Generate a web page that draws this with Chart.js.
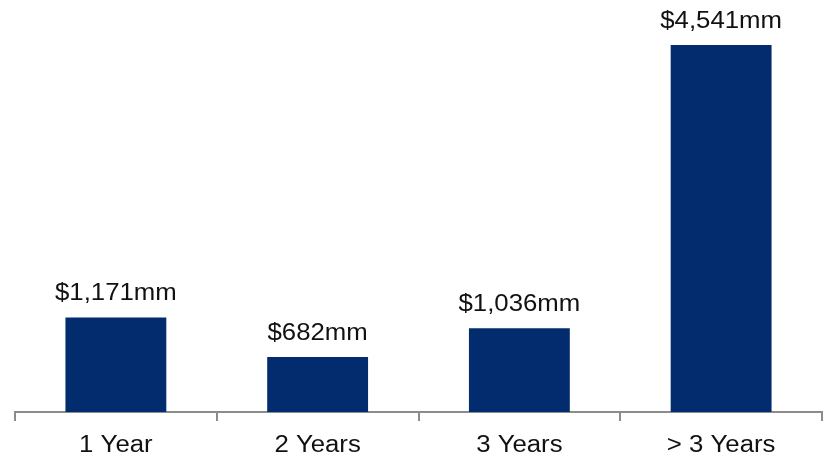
<!DOCTYPE html>
<html>
<head>
<meta charset="utf-8">
<script src="https://cdn.jsdelivr.net/npm/chart.js@4/dist/chart.umd.min.js"></script>
<style>
  html, body { margin: 0; padding: 0; background: #ffffff; }
  #wrap { width: 824px; height: 459px; position: relative; }
</style>
</head>
<body>
<div id="wrap"><canvas id="c"></canvas></div>
<script>
// Maturities by bucket, in $ millions
const categories = ['1 Year', '2 Years', '3 Years', '> 3 Years'];
const maturities = [1171, 682, 1036, 4541];
const valueLabels = ['$1,171mm', '$682mm', '$1,036mm', '$4,541mm'];

const barColor = '#022c6e';
const axisGray = '#8c8c8c';
const textColor = '#111111';
const textFont = '23px "Liberation Sans", Arial, sans-serif';
const textStretch = 1.12; // slightly widened lettering

function drawWideText(ctx, text, x, y) {
  ctx.save();
  ctx.translate(x, y);
  ctx.scale(textStretch, 1);
  ctx.fillText(text, 0, 0);
  ctx.restore();
}

// Value labels above the bars and category names under the axis
const barTexts = {
  id: 'barTexts',
  afterDraw(chart) {
    const ctx = chart.ctx;
    const meta = chart.getDatasetMeta(0);
    const xScale = chart.scales.x;
    ctx.save();
    ctx.font = textFont;
    ctx.fillStyle = textColor;
    ctx.textAlign = 'center';
    ctx.textBaseline = 'alphabetic';
    meta.data.forEach((bar, i) => {
      drawWideText(ctx, valueLabels[i], bar.x, bar.y - 17);
    });
    categories.forEach((name, i) => {
      drawWideText(ctx, name, xScale.getPixelForValue(i), xScale.bottom + 31);
    });
    ctx.restore();
  }
};

new Chart(document.getElementById('c'), {
  type: 'bar',
  data: {
    labels: categories,
    datasets: [{
      data: maturities,
      backgroundColor: barColor,
      borderWidth: 0,
      barPercentage: 0.5,
      categoryPercentage: 1.0
    }]
  },
  options: {
    responsive: true,
    maintainAspectRatio: false,
    animation: false,
    layout: { padding: { top: 8, left: 15, right: 2, bottom: 38 } },
    plugins: {
      legend: { display: false },
      tooltip: { enabled: false },
      title: { display: false }
    },
    scales: {
      x: {
        grid: {
          offset: true,
          drawOnChartArea: false,
          drawTicks: true,
          tickLength: 9,
          color: axisGray,
          lineWidth: 2
        },
        border: { display: true, color: axisGray, width: 2 },
        ticks: { display: false }
      },
      y: {
        display: false,
        min: 0,
        max: 5000
      }
    }
  },
  plugins: [barTexts]
});
</script>
</body>
</html>
